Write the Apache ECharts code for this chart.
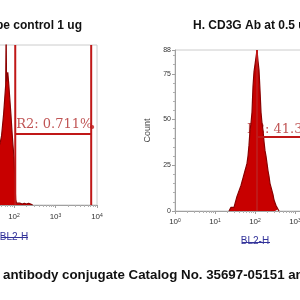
<!DOCTYPE html>
<html>
<head>
<meta charset="utf-8">
<script src="https://cdn.jsdelivr.net/npm/echarts@6/dist/echarts.min.js"></script>
<style>
html, body { margin: 0; padding: 0; background: #fff; }
#chart { width: 300px; height: 300px; }
</style>
</head>
<body>
<div id="chart"></div>
<script>
// histogram bins: position in decades (log10 of BL2-H) and event counts
var leftLog = [1.20, 1.25, 1.30, 1.35, 1.40, 1.45, 1.50, 1.55, 1.60, 1.65, 1.675, 1.70, 1.725, 1.75, 1.775, 1.80, 1.81, 1.82, 1.85, 1.875, 1.90, 1.925, 1.95, 1.975, 2.00, 2.02, 2.04, 2.06, 2.10, 2.15, 2.20, 2.25, 2.30, 2.35, 2.40, 2.45];
var leftCount = [3, 6, 9, 12, 15, 18, 22, 25, 29, 33, 35, 38, 44, 50, 58, 66, 95, 68, 73, 66, 58, 50, 41, 33, 26, 14, 3, 1, 1, 1, 0.5, 1, 0.5, 1, 0.5, 0];

var rightLog = [1.35, 1.375, 1.40, 1.425, 1.45, 1.475, 1.50, 1.525, 1.55, 1.575, 1.60, 1.625, 1.65, 1.675, 1.70, 1.725, 1.75, 1.775, 1.80, 1.825, 1.85, 1.875, 1.90, 1.925, 1.95, 1.975, 2.00, 2.025, 2.05, 2.075, 2.10, 2.125, 2.15, 2.175, 2.20, 2.225, 2.25, 2.275, 2.30, 2.325, 2.35, 2.375, 2.40, 2.425, 2.45, 2.475, 2.50, 2.525, 2.55, 2.575, 2.60];
var rightCount = [0, 1, 2, 1, 3, 2, 4, 5, 8, 7, 11, 10, 14, 16, 18, 17, 22, 24, 26, 30, 36, 44, 48, 54, 68, 76, 80, 84, 88, 82, 77, 66, 54, 48, 44, 38, 33, 30, 26, 22, 19, 15, 13, 11, 9, 6, 5, 3, 2, 1, 0];

// R2 gates: start decade, end decade, level
var leftGate = [2.03, 3.86, 39];
var rightGate = [2.05, 4.0, 40.4];
var gateLabels = ['R2: 0.711%', 'R2: 41.3%'];

var titles = ['Isotype control 1 ug', 'H. CD3G Ab at 0.5 ug'];
var caption = 'antibody conjugate Catalog No. 35697-05151 and isotype control';
var xName = 'BL2-H';
var yName = 'Count';
var yMax = 88;

var RED = '#c80000';
var DARK = '#8a0000';
var GATE = '#c01818';

function pts(logs, counts) {
  return logs.map(function (d, i) { return [Math.pow(10, d), counts[i]]; });
}

function gatePath(g) {
  var a = Math.pow(10, g[0]), b = Math.pow(10, g[1]);
  return [[a, 0], [a, yMax], [a, g[2]], [b, g[2]], [b, yMax], [b, 0]];
}

function xAxis(idx, gap, margin) {
  return {
    type: 'log', logBase: 10, gridIndex: idx, min: 1, max: 10000,
    name: xName, nameLocation: 'middle', nameGap: gap,
    nameTextStyle: { color: '#33339a', fontSize: 10, fontFamily: 'Liberation Sans, Arial' },
    axisLine: { lineStyle: { color: '#a0a0a0' } },
    axisTick: { length: 3, lineStyle: { color: '#a0a0a0' } },
    minorTick: { show: true, splitNumber: 9, length: 2, lineStyle: { color: '#b0b0b0' } },
    splitLine: { show: false },
    axisLabel: {
      margin: margin,
      formatter: function (v) {
        return '{b|10}{s|' + Math.round(Math.log10(v)) + '}';
      },
      rich: {
        b: { fontSize: 8, color: '#333', fontFamily: 'Liberation Sans, Arial' },
        s: { fontSize: 5, color: '#333', verticalAlign: 'top', fontFamily: 'Liberation Sans, Arial' }
      }
    }
  };
}

var chart = echarts.init(document.getElementById('chart'));

var titleStyle = { fontSize: 12, fontWeight: 'bold', color: '#111', fontFamily: 'Liberation Sans, Arial' };

chart.setOption({
  animation: false,
  title: [
    { text: titles[0], right: 218, top: 20, padding: 0, textStyle: titleStyle },
    { text: titles[1], left: 193, top: 20, padding: 0, textStyle: titleStyle },
    { text: caption, left: 3, top: 269, padding: 0,
      textStyle: { fontSize: 13.3, fontWeight: 'bold', color: '#111', fontFamily: 'Liberation Sans, Arial' } }
  ],
  grid: [
    { left: -69, top: 45, width: 166, height: 160, show: true, borderColor: '#cccccc', borderWidth: 1,
      outerBoundsMode: 'none', containLabel: false },
    { left: 175, top: 50, width: 160, height: 161, show: true, borderColor: '#cccccc', borderWidth: 1,
      outerBoundsMode: 'none', containLabel: false }
  ],
  xAxis: [xAxis(0, 27, 8), xAxis(1, 25, 7)],
  yAxis: [
    { type: 'value', gridIndex: 0, min: 0, max: yMax, interval: 25, show: false },
    {
      type: 'value', gridIndex: 1, min: 0, max: yMax, interval: 25,
      name: yName, nameLocation: 'middle', nameGap: 18,
      nameTextStyle: { color: '#444', fontSize: 9, fontFamily: 'Liberation Sans, Arial' },
      axisLine: { show: true, lineStyle: { color: '#a0a0a0' } },
      axisTick: { show: true, length: 3, lineStyle: { color: '#a0a0a0' } },
      minorTick: { show: true, splitNumber: 5, length: 2, lineStyle: { color: '#b0b0b0' } },
      splitLine: { show: false },
      axisLabel: { fontSize: 7, color: '#333', margin: 4, fontFamily: 'Liberation Sans, Arial' }
    }
  ],
  series: [
    {
      type: 'line', xAxisIndex: 0, yAxisIndex: 0, data: pts(leftLog, leftCount),
      symbol: 'none', clip: true,
      lineStyle: { color: DARK, width: 1.2 }, areaStyle: { color: RED, opacity: 1 }
    },
    {
      type: 'line', xAxisIndex: 1, yAxisIndex: 1, data: pts(rightLog, rightCount),
      symbol: 'none', clip: true,
      lineStyle: { color: DARK, width: 1.2 }, areaStyle: { color: RED, opacity: 1 }
    },
    {
      type: 'line', xAxisIndex: 0, yAxisIndex: 0, data: gatePath(leftGate),
      symbol: 'none', clip: true, lineStyle: { color: GATE, width: 2 }
    },
    {
      type: 'line', xAxisIndex: 1, yAxisIndex: 1, data: gatePath(rightGate),
      symbol: 'none', clip: true, lineStyle: { color: GATE, width: 2 }
    },
    {
      type: 'scatter', xAxisIndex: 0, yAxisIndex: 0, symbolSize: 0,
      data: [[Math.pow(10, leftGate[0]), leftGate[2]]],
      label: { show: true, formatter: gateLabels[0], position: [1, -16], color: '#b02a2a',
        fontSize: 13, lineHeight: 13, fontFamily: 'DejaVu Serif' }
    },
    {
      type: 'scatter', xAxisIndex: 0, yAxisIndex: 0, symbolSize: 4, symbolOffset: [1, -7],
      itemStyle: { color: GATE }, data: [[Math.pow(10, leftGate[1]), leftGate[2]]]
    },
    {
      type: 'scatter', xAxisIndex: 1, yAxisIndex: 1, symbolSize: 0,
      data: [[Math.pow(10, rightGate[0]), rightGate[2]]],
      label: { show: true, formatter: gateLabels[1], position: [-10, -14], color: '#b02a2a',
        fontSize: 13, lineHeight: 13, fontFamily: 'DejaVu Serif' }
    }
  ],
  graphic: [
    { type: 'line', shape: { x1: 1, y1: 237.5, x2: 28, y2: 237.5 }, style: { stroke: '#33339a', lineWidth: 1 } },
    { type: 'line', shape: { x1: 242, y1: 242.5, x2: 270, y2: 242.5 }, style: { stroke: '#33339a', lineWidth: 1 } }
  ]
});
</script>
</body>
</html>
